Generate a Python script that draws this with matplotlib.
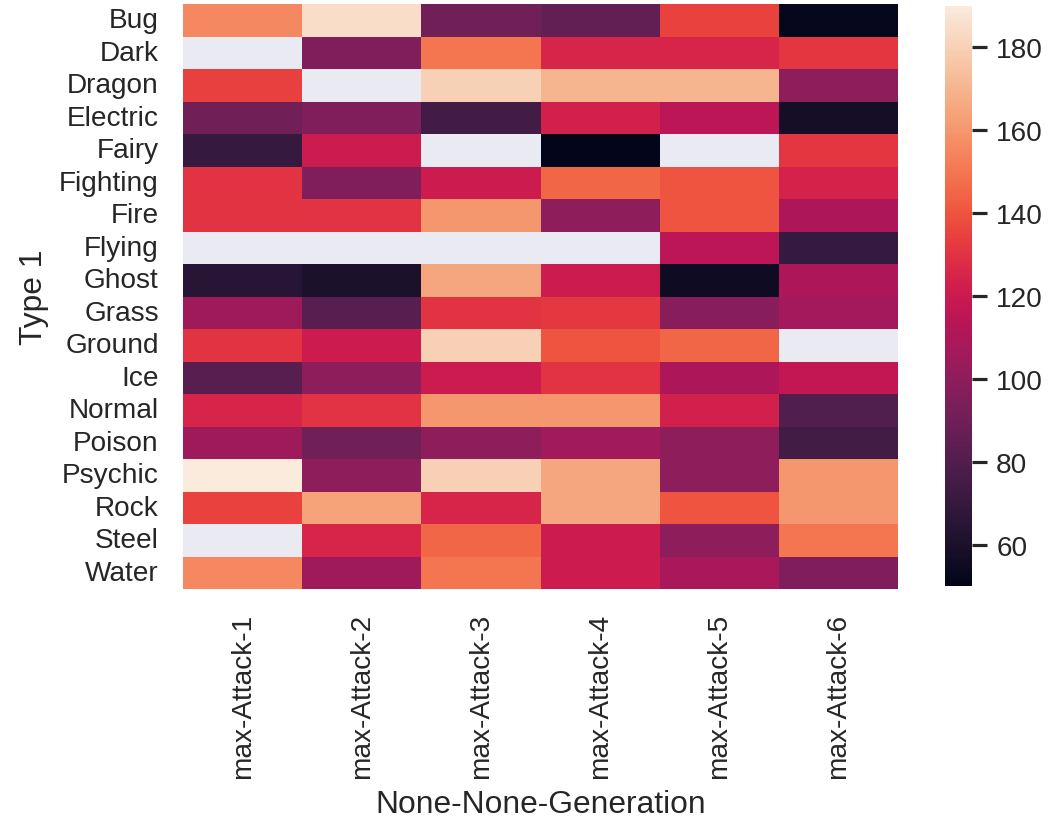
import numpy as np
import pandas as pd
import matplotlib
matplotlib.use("Agg")
import matplotlib.pyplot as plt
import seaborn as sns

nan = np.nan

types = ["Bug", "Dark", "Dragon", "Electric", "Fairy", "Fighting", "Fire",
         "Flying", "Ghost", "Grass", "Ground", "Ice", "Normal", "Poison",
         "Psychic", "Rock", "Steel", "Water"]
generations = [1, 2, 3, 4, 5, 6]

# max Attack per primary type, one list per generation
gen1 = [155, nan, 134, 90, 70, 130, 130, nan, 65, 105, 130, 82, 125, 105, 190, 135, nan, 155]
gen2 = [185, 95, nan, 95, 120, 95, 130, nan, 60, 82, 120, 100, 130, 90, 100, 164, 125, 105]
gen3 = [90, 150, 180, 75, nan, 120, 160, nan, 165, 130, 180, 120, 160, 100, 180, 125, 145, 150]
gen4 = [85, 125, 170, 123, 50, 145, 100, nan, 120, 132, 140, 130, 160, 106, 165, 165, 120, 120]
gen5 = [135, 125, 170, 115, nan, 140, 140, 115, 55, 98, 145, 110, 123, 100, 100, 140, 100, 108]
gen6 = [52, 131, 100, 58, 131, 124, 110, 70, 110, 107, nan, 117, 80, 75, 160, 160, 150, 95]

columns = pd.MultiIndex.from_tuples([("max", "Attack", g) for g in generations],
                                    names=[None, None, "Generation"])
table = pd.DataFrame(np.column_stack([gen1, gen2, gen3, gen4, gen5, gen6]),
                     index=pd.Index(types, name="Type 1"), columns=columns)

sns.set_theme()
plt.rcParams["font.family"] = ["Liberation Sans", "DejaVu Sans"]

W, H = 1050, 824
fig = plt.figure(figsize=(W / 183, H / 183), dpi=183)
ax = fig.add_axes([183 / W, 1 - 590 / H, (898 - 183) / W, (590 - 5) / H])
cax = fig.add_axes([945 / W, 1 - 587 / H, 27 / W, (587 - 7) / H])

sns.heatmap(table, ax=ax, cbar_ax=cax)
ax.grid(False)
ax.xaxis.label.set_size(12.5)
ax.yaxis.label.set_size(12.5)

fig.savefig("out.png", dpi=183)
